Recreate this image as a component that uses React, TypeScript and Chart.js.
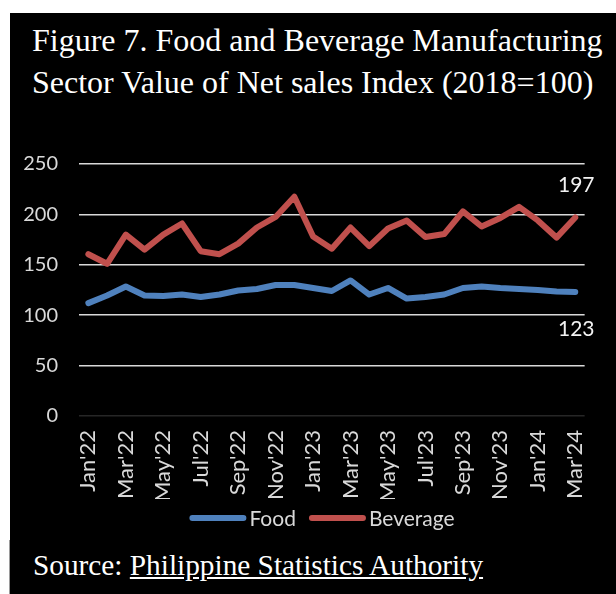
import React, { useEffect, useRef } from "react";
import { Chart, registerables } from "chart.js";

Chart.register(...registerables);

const months: string[] = [
  "Jan'22", "Feb'22", "Mar'22", "Apr'22", "May'22", "Jun'22", "Jul'22", "Aug'22", "Sep'22", "Oct'22", "Nov'22", "Dec'22",
  "Jan'23", "Feb'23", "Mar'23", "Apr'23", "May'23", "Jun'23", "Jul'23", "Aug'23", "Sep'23", "Oct'23", "Nov'23", "Dec'23",
  "Jan'24", "Feb'24", "Mar'24",
];

const foodValues: number[] = [
  112, 119.5, 128.5, 119.5, 119, 120.5, 118, 120.5, 124.5, 126, 130, 130,
  127, 124, 134.5, 120.5, 127, 116.5, 118, 120.5, 127, 128.5, 127, 126,
  125, 123.5, 123,
];

const beverageValues: number[] = [
  160.5, 151, 180, 165, 180, 191, 163.5, 160.5, 171, 187, 197.5, 217.5,
  178, 166, 187, 168.5, 186, 194, 177.5, 180.5, 203, 188, 196.5, 207.5,
  194, 177, 197,
];

const yTicks: number[] = [0, 50, 100, 150, 200, 250];

const FOOD_COLOR = "#4f81bd";
const BEV_COLOR = "#c0504d";
const TEXT_COLOR = "#d9d9d9";

const lastLabelPlugin = {
  id: "lastLabel",
  afterDatasetsDraw(chart: any) {
    const ctx = chart.ctx;
    ctx.save();
    ctx.font = "21px Lato";
    ctx.fillStyle = "#f2f2f2";
    ctx.textAlign = "center";
    ctx.textBaseline = "middle";
    chart.data.datasets.forEach((ds: any, i: number) => {
      const meta = chart.getDatasetMeta(i);
      const idx = ds.data.length - 1;
      const pt = meta.data[idx];
      if (!pt) return;
      const offset = i === 0 ? 37 : -32;
      ctx.fillText(String(Math.round(ds.data[idx])), pt.x + 1, pt.y + offset);
    });
    ctx.restore();
  },
};

const customLegendPlugin = {
  id: "customLegend",
  afterDraw(chart: any) {
    const ctx = chart.ctx;
    ctx.save();
    ctx.font = "21px Lato";
    const boxW = 57;
    const gap = 3;
    const itemGap = 13;
    const items = chart.data.datasets.map((ds: any) => ({
      text: ds.label,
      color: ds.borderColor,
      w: boxW + gap + ctx.measureText(ds.label).width,
    }));
    const total = items.reduce((a: number, it: any) => a + it.w, 0) + itemGap * (items.length - 1);
    let x = chart.width / 2 + 9 - total / 2;
    const y = chart.height - 27;
    items.forEach((it: any) => {
      ctx.strokeStyle = it.color;
      ctx.lineWidth = 6;
      ctx.lineCap = "round";
      ctx.beginPath();
      ctx.moveTo(x + 3, y);
      ctx.lineTo(x + boxW - 3, y);
      ctx.stroke();
      ctx.fillStyle = TEXT_COLOR;
      ctx.textAlign = "left";
      ctx.textBaseline = "middle";
      ctx.fillText(it.text, x + boxW + gap, y + 1);
      x += it.w + itemGap;
    });
    ctx.restore();
  },
};

export default function App() {
  const canvasRef = useRef<HTMLCanvasElement | null>(null);

  useEffect(() => {
    if (!canvasRef.current) return;
    const chart = new Chart(canvasRef.current, {
      type: "line",
      data: {
        labels: months,
        datasets: [
          {
            label: "Food",
            data: foodValues,
            borderColor: FOOD_COLOR,
            backgroundColor: FOOD_COLOR,
            borderWidth: 6,
            pointRadius: 0,
            tension: 0,
            borderCapStyle: "round",
            borderJoinStyle: "round",
          },
          {
            label: "Beverage",
            data: beverageValues,
            borderColor: BEV_COLOR,
            backgroundColor: BEV_COLOR,
            borderWidth: 6,
            pointRadius: 0,
            tension: 0,
            borderCapStyle: "round",
            borderJoinStyle: "round",
          },
        ],
      },
      options: {
        responsive: false,
        animation: false,
        layout: { padding: { left: 0, right: 18, top: 54, bottom: 46 } },
        plugins: {
          tooltip: { enabled: false },
          legend: { display: false },
        },
        scales: {
          x: {
            type: "category",
            offset: true,
            grid: { display: false, drawTicks: false },
            border: { display: false },
            ticks: {
              color: TEXT_COLOR,
              font: { family: "Lato", size: 22 },
              autoSkip: false,
              minRotation: 90,
              maxRotation: 90,
              padding: 14,
              callback: (_v: any, i: number) => (i % 2 === 0 ? months[i] : ""),
            },
            afterFit: (s: any) => {
              s.height = 83;
            },
          },
          y: {
            min: yTicks[0],
            max: yTicks[yTicks.length - 1],
            grid: {
              drawTicks: false,
              lineWidth: 1.5,
              color: (c: any) => (c.tick && c.tick.value === 0 ? "#262626" : TEXT_COLOR),
            },
            border: { display: false },
            ticks: {
              color: TEXT_COLOR,
              font: { family: "Lato", size: 20 },
              stepSize: 50,
              padding: 21,
            },
            afterBuildTicks: (s: any) => {
              s.ticks = yTicks.map((v) => ({ value: v }));
            },
            afterFit: (s: any) => {
              s.width = 69;
            },
          },
        },
      },
      plugins: [lastLabelPlugin, customLegendPlugin],
    });
    return () => chart.destroy();
  }, []);

  return (
    <div style={{ position: "absolute", left: 0, top: 0, width: 616, height: 594, background: "#ffffff", overflow: "hidden" }}>
      <div style={{ position: "absolute", left: 10, top: 13, width: 606, height: 581, background: "#000000" }} />
      <div style={{ position: "absolute", left: 9, top: 540, width: 1, height: 54, background: "#9a9a9a" }} />
      <div
        style={{
          position: "absolute",
          left: 32,
          top: 19,
          fontFamily: "'Liberation Serif', 'Times New Roman', serif",
          fontSize: 32,
          lineHeight: "42px",
          color: "#ffffff",
          whiteSpace: "nowrap",
        }}
      >
        <div>Figure 7. Food and Beverage Manufacturing</div>
        <div>Sector Value of Net sales Index (2018=100)</div>
      </div>
      <canvas
        ref={canvasRef}
        width={606}
        height={435}
        style={{ position: "absolute", left: 10, top: 110, width: 606, height: 435 }}
      />
      <div
        style={{
          position: "absolute",
          left: 33,
          top: 548,
          fontFamily: "'Liberation Serif', 'Times New Roman', serif",
          fontSize: 29.3,
          lineHeight: "34px",
          color: "#ffffff",
          whiteSpace: "nowrap",
        }}
      >
        Source: <span style={{ textDecoration: "underline" }}>Philippine Statistics Authority</span>
      </div>
    </div>
  );
}
